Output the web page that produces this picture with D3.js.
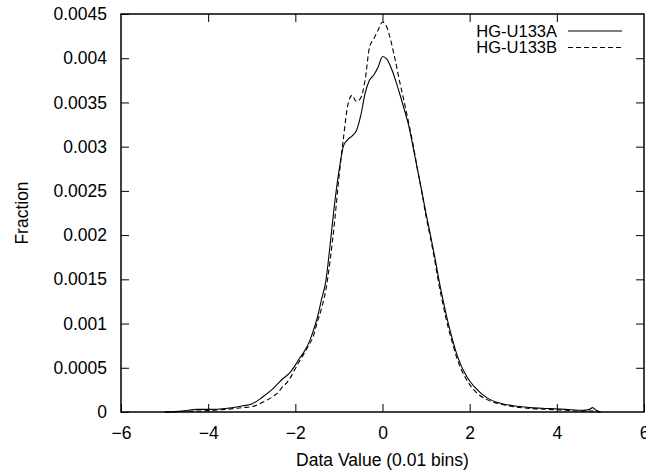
<!DOCTYPE html>
<html>
<head>
<meta charset="utf-8">
<script src="https://cdn.jsdelivr.net/npm/d3@7"></script>
<style>
  body { margin: 0; background: #fff; }
  svg { display: block; font-family: "Liberation Sans", Arial, sans-serif; }
</style>
</head>
<body>
<svg id="chart"></svg>
<script>
// x positions (data value, 0.01 bins)
const xValues = [-5.0, -4.6, -4.25, -4.0, -3.6, -3.2, -3.0, -2.75,
  -2.5, -2.4, -2.3, -2.2, -2.1, -2.0, -1.9, -1.8, -1.7, -1.6, -1.5, -1.4, -1.3, -1.2, -1.1, -1.0,
  -0.9, -0.8, -0.7, -0.6, -0.5, -0.4, -0.3, -0.2, -0.1, 0.0, 0.1, 0.2, 0.3, 0.4, 0.5,
  0.6, 0.7, 0.8, 0.9, 1.0, 1.1, 1.2, 1.3, 1.4, 1.5, 1.6, 1.7, 1.8, 1.9, 2.0,
  2.2, 2.4, 2.7, 3.0, 3.4, 3.8, 4.2, 4.6, 4.75, 4.82, 4.9, 5.0];

const seriesNames = ['HG-U133A', 'HG-U133B'];

const u133a = [0.0, 0.00001, 0.00003, 0.00003, 0.00004, 0.00007, 0.00009, 0.00017,
  0.00027, 0.00032, 0.00037, 0.00041, 0.00046, 0.00053, 0.00061, 0.00068, 0.00077, 0.00090, 0.00106, 0.00127, 0.00148, 0.00190, 0.00235, 0.00272,
  0.00300, 0.00308, 0.00312, 0.00318, 0.00335, 0.00360, 0.00375, 0.00381, 0.00390, 0.00402, 0.00399, 0.00389, 0.00375, 0.00359, 0.00342,
  0.00324, 0.00300, 0.00275, 0.00250, 0.00224, 0.00200, 0.00175, 0.00148, 0.00124, 0.00102, 0.00083, 0.00066, 0.00053, 0.00043, 0.00035,
  0.00024, 0.00016, 0.00010, 0.00007, 0.00005, 0.00004, 0.00003, 0.00002, 0.00003, 0.00005, 0.00002, 0.0];

const u133b = [0.0, 0.000005, 0.00001, 0.000015, 0.00003, 0.00005, 0.00006, 0.00011,
  0.00018, 0.00022, 0.00028, 0.00033, 0.00040, 0.00049, 0.00058, 0.00066, 0.00075, 0.00084, 0.00101, 0.00117, 0.00138, 0.00172, 0.00215, 0.00265,
  0.00308, 0.00346, 0.00358, 0.00351, 0.00355, 0.00375, 0.00412, 0.00422, 0.00432, 0.00441, 0.00435, 0.00418, 0.00396, 0.00372, 0.00350,
  0.00327, 0.00303, 0.00275, 0.00249, 0.00221, 0.00197, 0.00171, 0.00143, 0.00119, 0.00097, 0.00079, 0.00062, 0.00049, 0.00039, 0.00031,
  0.00020, 0.00014, 0.00009, 0.00006, 0.00004, 0.00003, 0.00002, 0.00001, 0.00001, 0.00001, 0.000005, 0.0];

const xTicks = [-6, -4, -2, 0, 2, 4, 6];
const yTicks = [0, 0.0005, 0.001, 0.0015, 0.002, 0.0025, 0.003, 0.0035, 0.004, 0.0045];

const margin = {top: 14, right: 2, bottom: 58, left: 121};
const totalW = 646, totalH = 470;
const width = totalW - margin.left - margin.right;
const height = totalH - margin.top - margin.bottom;
const fontSize = 17.5;
const tickLen = 8;

const xScale = d3.scaleLinear().domain([-6, 6]).range([0, width]);
const yScale = d3.scaleLinear().domain([0, 0.0045]).range([height, 0]);

const svg = d3.select('#chart')
    .attr('width', totalW)
    .attr('height', totalH)
  .append('g')
    .attr('transform', 'translate(' + margin.left + ',' + margin.top + ')');

// axes with inward ticks, mirrored on top/right
const fmtY = d => d === 0 ? '0' : String(+d.toFixed(4));

svg.append('g')
    .attr('transform', 'translate(0,' + height + ')')
    .call(d3.axisBottom(xScale).tickValues(xTicks).tickSize(-tickLen).tickPadding(tickLen + 7).tickFormat(d3.format('d')))
    .call(g => g.select('.domain').remove())
    .selectAll('text').attr('font-size', fontSize).attr('font-family', null);

svg.append('g')
    .call(d3.axisTop(xScale).tickValues(xTicks.slice(1, -1)).tickSize(-tickLen).tickFormat(''))
    .call(g => g.select('.domain').remove());

svg.append('g')
    .call(d3.axisLeft(yScale).tickValues(yTicks).tickSize(-tickLen).tickPadding(tickLen + 6).tickFormat(fmtY))
    .call(g => g.select('.domain').remove())
    .selectAll('text').attr('font-size', fontSize).attr('font-family', null);

svg.append('g')
    .attr('transform', 'translate(' + width + ',0)')
    .call(d3.axisRight(yScale).tickValues(yTicks.slice(1, -1)).tickSize(-tickLen).tickFormat(''))
    .call(g => g.select('.domain').remove());

svg.selectAll('.tick line').attr('stroke', '#000').attr('stroke-width', 1);

// frame
svg.append('rect')
    .attr('width', width)
    .attr('height', height)
    .attr('fill', 'none')
    .attr('stroke', '#000')
    .attr('stroke-width', 1.5);

// axis labels
svg.append('text')
    .attr('x', width / 2)
    .attr('y', height + 54)
    .attr('text-anchor', 'middle')
    .attr('font-size', fontSize)
    .text('Data Value (0.01 bins)');

svg.append('text')
    .attr('transform', 'translate(' + (-margin.left + 28) + ',' + (height / 2) + ') rotate(-90)')
    .attr('text-anchor', 'middle')
    .attr('font-size', fontSize)
    .text('Fraction');

// curves
const line = d3.line()
    .x(d => xScale(d[0]))
    .y(d => yScale(d[1]))
    .curve(d3.curveMonotoneX);

const series = [u133a, u133b];
const dashes = [null, '5,3'];

series.forEach((vals, i) => {
  svg.append('path')
      .datum(xValues.map((x, j) => [x, vals[j]]))
      .attr('fill', 'none')
      .attr('stroke', '#000')
      .attr('stroke-width', 1.1)
      .attr('stroke-dasharray', dashes[i])
      .attr('d', line);
});

// legend
const legend = svg.append('g')
  .selectAll('g')
  .data(seriesNames)
  .enter().append('g')
    .attr('transform', (d, i) => 'translate(0,' + (17 + i * 16.5) + ')');

legend.append('text')
    .attr('x', 557 - margin.left)
    .attr('dy', '0.35em')
    .attr('text-anchor', 'end')
    .attr('font-size', 16.5)
    .text(d => d);

legend.append('line')
    .attr('x1', 568 - margin.left)
    .attr('x2', 622 - margin.left)
    .attr('stroke', '#000')
    .attr('stroke-width', 1.1)
    .attr('stroke-dasharray', (d, i) => dashes[i]);
</script>
</body>
</html>
